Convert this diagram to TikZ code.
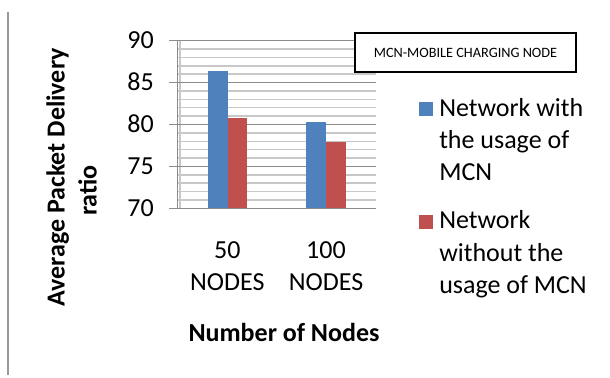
\documentclass[tikz,border=0pt]{standalone}
\usepackage{fontspec}
\setmainfont{Carlito}
\definecolor{barblue}{HTML}{4F81BD}
\definecolor{barred}{HTML}{C0504D}
\definecolor{minorgrid}{HTML}{C8C8C8}
\definecolor{majorgrid}{HTML}{8C8C8C}
\begin{document}
\begin{tikzpicture}[x=0.75pt,y=-0.75pt,
  lbl/.style={font=\fontsize{19.5}{23.7}\selectfont, inner sep=0},
  ttl/.style={font=\bfseries\fontsize{19.5}{23.7}\selectfont, inner sep=0},
  minorline/.style={draw=minorgrid, line width=1.1pt},
  majorline/.style={draw=majorgrid, line width=1.1pt},
  legsq/.style={minimum width=10.5pt, minimum height=10.5pt, inner sep=0}]
\useasboundingbox (0,0) rectangle (610,378);
% left border line
\draw[draw=gray!80, line width=1.3pt] (8,12) -- (8,375);
% minor grid
\foreach \v in {71,72,73,74,76,77,78,79,81,82,83,84,86,87,88,89}
  \draw[minorline] (178,{208.3-(\v-70)*8.38}) -- (376,{208.3-(\v-70)*8.38});
% wall lines
\draw[minorline] (180,40.7) -- (180,208.3);
\draw[majorline] (177.5,40.7) -- (177.5,208.3);
% major grid and ticks
\foreach \v in {70,75,80,85,90}
  \draw[majorline] (169,{208.3-(\v-70)*8.38}) -- (376,{208.3-(\v-70)*8.38});
% tick labels
\foreach \v in {70,75,80,85,90}
  \node[lbl, anchor=base east] (t\v) at (154,{208.3-(\v-70)*8.38+8.2}) {\v};
% bars
\fill[barblue] (208.3,208.3) rectangle (227.7,70.9);
\fill[barred] (227.7,208.3) rectangle (247,117.8);
\fill[barblue] (306.3,208.3) rectangle (326,122);
\fill[barred] (326,208.3) rectangle (346,142.1);
% category labels
\node[lbl, anchor=base] (c1a) at (227.3,258) {50};
\node[lbl, anchor=base] (c1b) at (227.3,290) {NODES};
\node[lbl, anchor=base] (c2a) at (326,258) {100};
\node[lbl, anchor=base] (c2b) at (326,290) {NODES};
% axis titles
\node[ttl, anchor=base] (xt) at (284,341.7) {Number of Nodes};
\node[ttl, anchor=base, rotate=90] (yt1) at (64.5,177.5) {Average Packet Delivery};
\node[ttl, anchor=base, rotate=90] (yt2) at (96.5,190.5) {ratio};
% MCN box
\node[draw=black, line width=1.6pt, fill=white, minimum width=221*0.75pt, minimum height=38.5*0.75pt, inner sep=0, font=\fontsize{10.7}{12}\selectfont] (mcn) at (465.5,52.5) {MCN-MOBILE CHARGING NODE};
% legend
\node[legsq, fill=barblue] (lb) at (425.5,109.4) {};
\node[lbl, anchor=base west] (lb1) at (439,116.7) {Network with};
\node[lbl, anchor=base west] (lb2) at (439,148.3) {the usage of};
\node[lbl, anchor=base west] (lb3) at (439,180.5) {MCN};
\node[legsq, fill=barred] (lr) at (425.5,222.2) {};
\node[lbl, anchor=base west] (lr1) at (439,228.5) {Network};
\node[lbl, anchor=base west] (lr2) at (439,261.2) {without the};
\node[lbl, anchor=base west] (lr3) at (439,293) {usage of MCN};
\end{tikzpicture}
\end{document}
